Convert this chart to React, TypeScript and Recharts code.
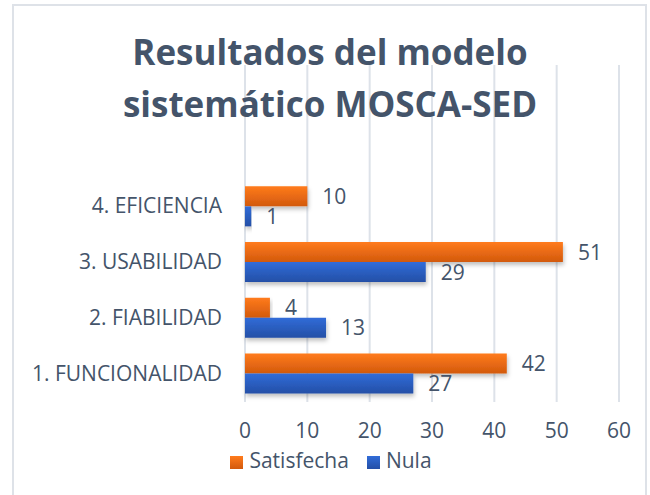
import React from "react";
import {
	BarChart,
	Bar,
	XAxis,
	YAxis,
	CartesianGrid,
	Legend,
	LabelList,
} from "recharts";

const categories = [
	"4. EFICIENCIA",
	"3. USABILIDAD",
	"2. FIABILIDAD",
	"1. FUNCIONALIDAD",
];
const satisfecha = [10, 51, 4, 42];
const nula = [1, 29, 13, 27];
const xTicks = [0, 10, 20, 30, 40, 50, 60];
const seriesOrder = ["Satisfecha", "Nula"];

const data = categories.map((name, i) => ({
	name,
	Satisfecha: satisfecha[i],
	Nula: nula[i],
}));

const TEXT = "#44546A";
const FONT = "'Open Sans', sans-serif";

export default function App() {
	return (
		<div
			style={{
				position: "absolute",
				left: 0,
				top: 0,
				width: 650,
				height: 495,
				background: "#fff",
				fontFamily: FONT,
				overflow: "hidden",
			}}
		>
			<div
				style={{
					position: "absolute",
					left: 12,
					top: 4,
					width: 635,
					height: 500,
					border: "2px solid #DEE2E8",
					boxSizing: "border-box",
				}}
			/>
			<BarChart
				width={650}
				height={495}
				data={data}
				layout="vertical"
				barCategoryGap="15%"
				barGap={0}
				margin={{ top: 178, right: 31, bottom: 23, left: 13 }}
			>
				<defs>
					<linearGradient id="gOrange" x1="0" y1="0" x2="0" y2="1">
						<stop offset="0%" stopColor="#FF7B1C" />
						<stop offset="100%" stopColor="#D2590D" />
					</linearGradient>
					<linearGradient id="gBlue" x1="0" y1="0" x2="0" y2="1">
						<stop offset="0%" stopColor="#316CD8" />
						<stop offset="100%" stopColor="#244FA6" />
					</linearGradient>
					<filter id="shadow" x="-5%" y="-20%" width="115%" height="160%">
						<feDropShadow dx="1" dy="3" stdDeviation="2" floodColor="#000" floodOpacity="0.25" />
					</filter>
				</defs>
				<CartesianGrid
					horizontal={false}
					stroke="#DDE2E9"
					strokeWidth={2}
					y={65}
					height={337}
				/>
				<XAxis
					type="number"
					domain={[0, 60]}
					ticks={xTicks}
					axisLine={false}
					tickLine={false}
					tickMargin={16}
					height={43}
					tick={{ fill: TEXT, fontSize: 21, fontFamily: FONT }}
				/>
				<YAxis
					type="category"
					dataKey="name"
					width={232}
					axisLine={false}
					tickLine={false}
					tickSize={0}
					tickMargin={23}
					tick={{ fill: TEXT, fontSize: 21, fontFamily: FONT }}
				/>
				<Legend
					iconType="square"
					iconSize={13}
					itemSorter={(item: any) => seriesOrder.indexOf(item.value)}
					wrapperStyle={{
						top: 446,
						left: 0,
						width: 680,
						fontSize: 21,
						fontFamily: FONT,
					}}
					formatter={(v) => (
						<span style={{ color: TEXT, fontSize: 21, marginLeft: 2, marginRight: 8 }}>{v}</span>
					)}
				/>
				<Bar
					dataKey="Satisfecha"
					fill="url(#gOrange)"
					legendType="square"
					filter="url(#shadow)"
					isAnimationActive={false}
				>
					<LabelList
						dataKey="Satisfecha"
						position="right"
						offset={15}
						fill={TEXT}
						fontSize={21}
						fontFamily={FONT}
					/>
				</Bar>
				<Bar
					dataKey="Nula"
					fill="url(#gBlue)"
					legendType="square"
					filter="url(#shadow)"
					isAnimationActive={false}
				>
					<LabelList
						dataKey="Nula"
						position="right"
						offset={15}
						fill={TEXT}
						fontSize={21}
						fontFamily={FONT}
					/>
				</Bar>
			</BarChart>
			<div
				style={{
					position: "absolute",
					left: 0,
					top: 26,
					width: 660,
					textAlign: "center",
					color: TEXT,
					fontWeight: 700,
					fontSize: 35,
					lineHeight: "52px",
					pointerEvents: "none",
				}}
			>
				Resultados del modelo
				<br />
				sistemático MOSCA-SED
			</div>
		</div>
	);
}
